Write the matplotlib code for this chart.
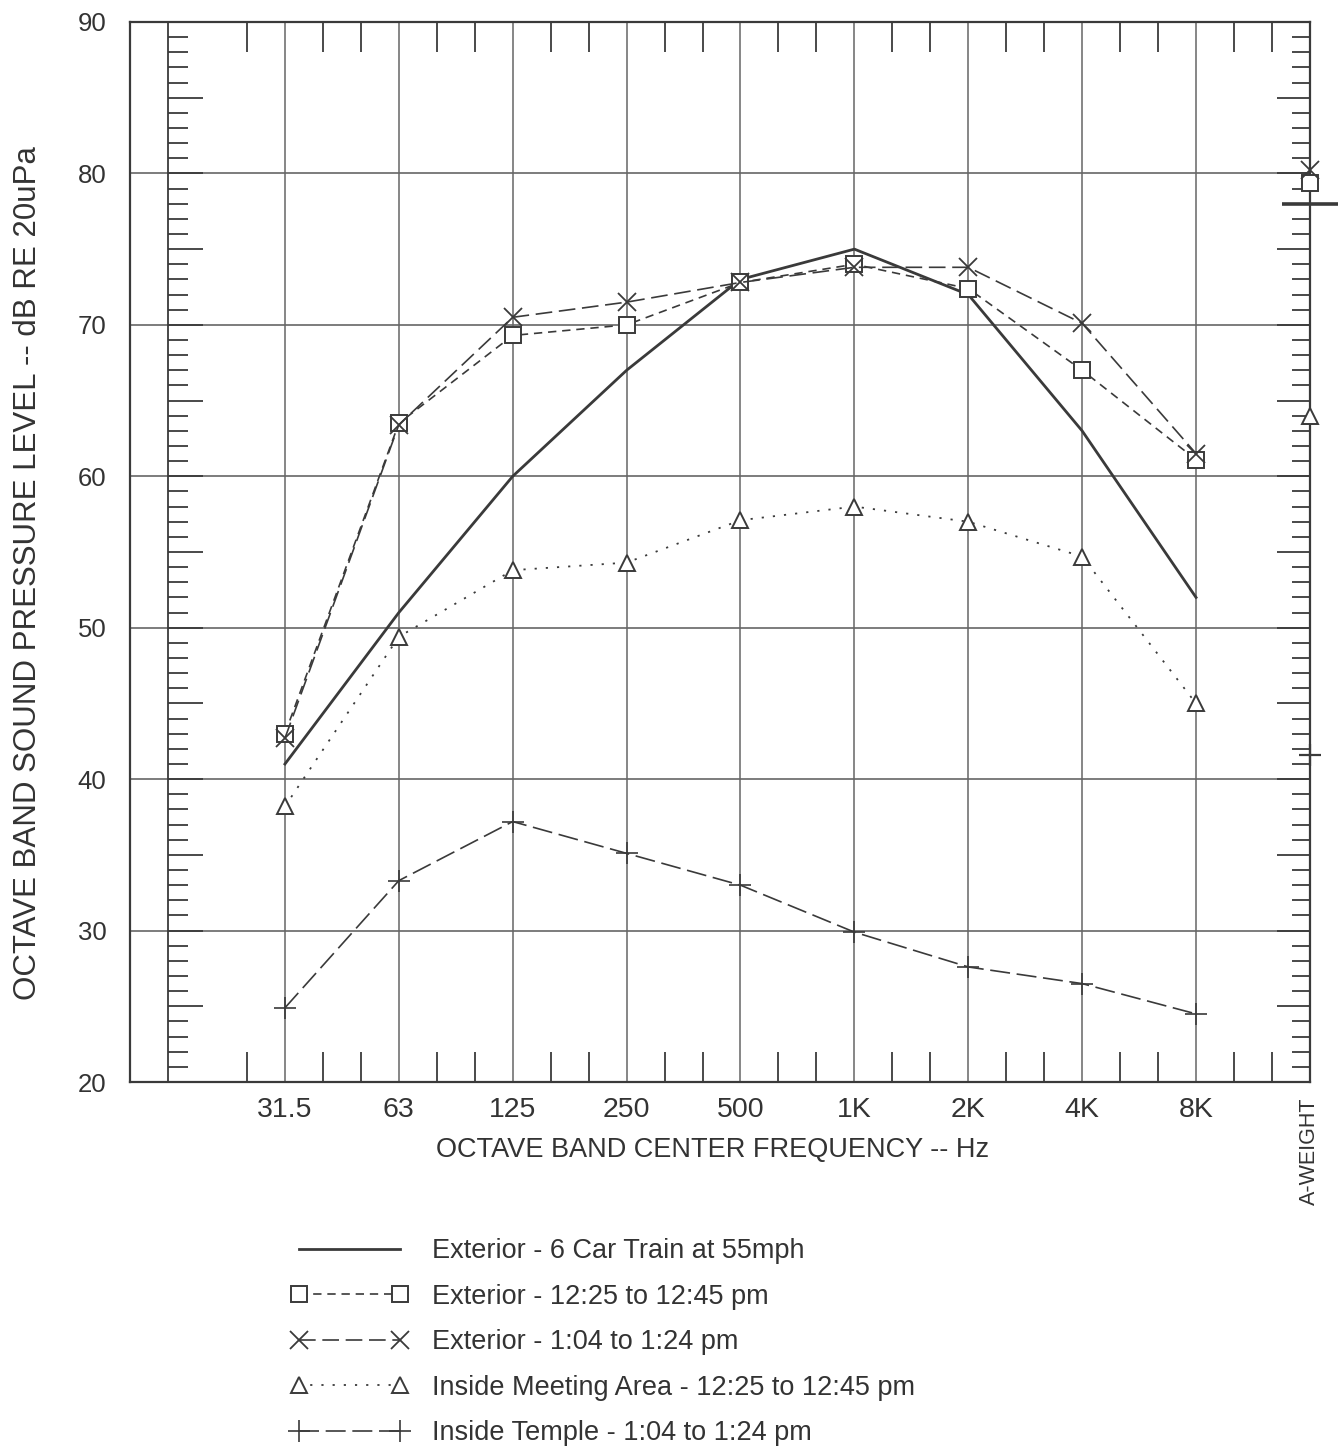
import numpy as np
import matplotlib.pyplot as plt

plt.rcParams['font.family'] = ['Liberation Sans', 'DejaVu Sans']

bands = ['31.5', '63', '125', '250', '500', '1K', '2K', '4K', '8K']
x = np.arange(len(bands))
x_aw = len(bands)  # A-weight column sits on the right frame

train = [41.0, 51.0, 60.0, 67.0, 73.0, 75.0, 72.0, 63.0, 52.0]
train_aw = 78.0
ext_1225 = [43.0, 63.5, 69.3, 70.0, 72.8, 74.0, 72.4, 67.0, 61.1]
ext_1225_aw = 79.4
ext_104 = [42.7, 63.4, 70.5, 71.5, 72.8, 73.8, 73.8, 70.1, 61.5]
ext_104_aw = 80.2
meeting = [38.2, 49.4, 53.8, 54.3, 57.1, 58.0, 57.0, 54.7, 45.0]
meeting_aw = 64.0
temple = [24.9, 33.3, 37.2, 35.1, 33.0, 29.9, 27.6, 26.5, 24.5]
temple_aw = 41.6

labels = ['Exterior - 6 Car Train at 55mph',
          'Exterior - 12:25 to 12:45 pm',
          'Exterior - 1:04 to 1:24 pm',
          'Inside Meeting Area - 12:25 to 12:45 pm',
          'Inside Temple - 1:04 to 1:24 pm']

ink = '#3a3a3a'
grid = '#666666'
txt = '#333333'

fig = plt.figure(figsize=(13.42, 14.46), dpi=100)
ax = fig.add_axes([0.0969, 0.2517, 0.8792, 0.7331])
ax.set_xlim(-1.36, 9.0)
ax.set_ylim(20, 90)

# grid
ax.set_yticks(np.arange(20, 91, 10))
ax.set_xticks(x)
ax.set_xticklabels(bands, fontsize=20.5)
ax.tick_params(axis='both', length=0, colors=txt)
ax.tick_params(axis='y', labelsize=18.5, pad=17)
ax.tick_params(axis='x', pad=11)
for v in range(30, 90, 10):
    ax.axhline(v, color=grid, lw=1.2, zorder=1)
for xi in x:
    ax.axvline(xi, color=grid, lw=1.1, zorder=1)
for s in ax.spines.values():
    s.set_color(ink)
    s.set_linewidth(1.6)

# inner left scale and right scale ticks
ax.axvline(-1.03, color=ink, lw=1.3, zorder=1)
for v in range(21, 90):
    long_tick = v % 5 == 0
    ax.hlines(v, -1.03, -1.03 + (0.31 if long_tick else 0.175), color=ink, lw=1.3, zorder=1)
    ax.hlines(v, 9.0 - (0.29 if long_tick else 0.16), 9.0, color=ink, lw=1.3, zorder=1)

# third-octave ticks on top and bottom
for k in range(-1, 27):
    if k % 3 == 0:
        continue
    ax.vlines(k / 3, 88.0, 90, color=ink, lw=1.3, zorder=1)
    ax.vlines(k / 3, 20, 22.0, color=ink, lw=1.3, zorder=1)

# series
l1, = ax.plot(x, train, color=ink, lw=2.0, zorder=3, label=labels[0])
l2, = ax.plot(x, ext_1225, color=ink, lw=1.2, dashes=(5, 3.5),
              marker='s', ms=11, mfc='white', mec=ink, mew=1.4, zorder=4, label=labels[1])
l3, = ax.plot(x, ext_104, color=ink, lw=1.2, dashes=(10, 4),
              marker='x', ms=13, mew=1.3, zorder=4, label=labels[2])
l4, = ax.plot(x, meeting, color=ink, lw=1.3, dashes=(1.2, 5),
              marker='^', ms=12, mfc='white', mec=ink, mew=1.4, zorder=4, label=labels[3])
l5, = ax.plot(x, temple, color=ink, lw=1.2, dashes=(12, 4),
              marker='+', ms=16, mew=1.2, zorder=4, label=labels[4])

# A-weighted levels on the right frame, unconnected
ax.plot([x_aw], [train_aw], marker='_', ms=40, mew=2.6, color=ink, clip_on=False, zorder=5)
ax.plot([x_aw], [ext_1225_aw], ls='none', marker='s', ms=11, mfc='white', mec=ink, mew=1.4,
        clip_on=False, zorder=5)
ax.plot([x_aw], [ext_104_aw], ls='none', marker='x', ms=13, mew=1.3, color=ink,
        clip_on=False, zorder=5)
ax.plot([x_aw], [meeting_aw], ls='none', marker='^', ms=12, mfc='white', mec=ink, mew=1.4,
        clip_on=False, zorder=5)
ax.plot([x_aw], [temple_aw], ls='none', marker='+', ms=16, mew=1.6, color=ink,
        clip_on=False, zorder=5)

ax.set_xlabel('OCTAVE BAND CENTER FREQUENCY -- Hz', fontsize=19.5, color=txt)
ax.xaxis.set_label_coords(0.494, -0.052)
ax.set_ylabel('OCTAVE BAND SOUND PRESSURE LEVEL -- dB RE 20uPa', fontsize=22.5, color=txt)
ax.yaxis.set_label_coords(-0.074, 0.48)

ax.text(9.0, 19.0, 'A-WEIGHT', rotation=90, ha='center', va='top', fontsize=15.5,
        color=txt, clip_on=False)

leg = fig.legend(handles=[l1, l2, l3, l4, l5], loc='upper left', bbox_to_anchor=(0.207, 0.153),
                 frameon=False, fontsize=19.5, numpoints=2, handlelength=4.3,
                 handletextpad=0.9, labelspacing=0.72, borderpad=0)
for t in leg.get_texts():
    t.set_color(txt)

fig.savefig('out.png', dpi=100)
